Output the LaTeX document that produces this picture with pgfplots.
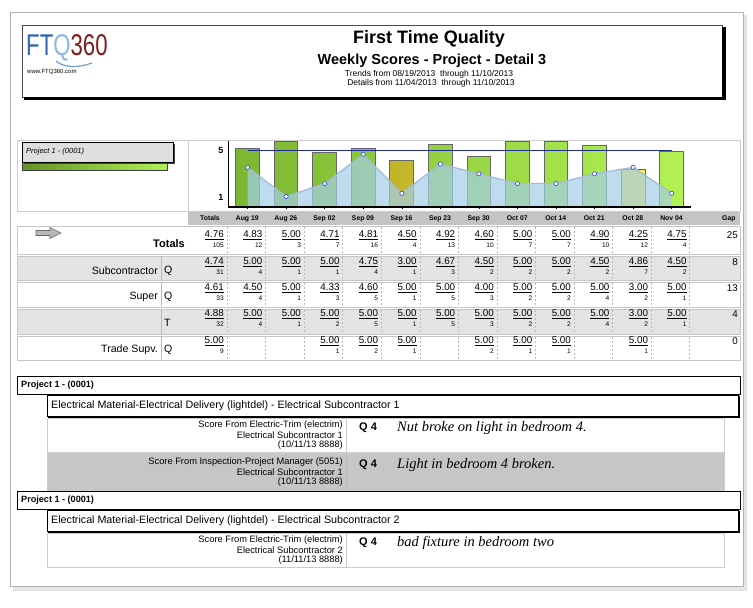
\documentclass[border=0pt]{standalone}
\usepackage{pgfplots}
\pgfplotsset{compat=1.18}
\usepackage{fontspec}
\setmainfont{Liberation Sans}
\newfontfamily\serifit{Liberation Serif}
\definecolor{gdark}{HTML}{7CB632}
\definecolor{glight}{HTML}{B2F254}
\definecolor{ydark}{HTML}{C2B42A}
\definecolor{ylight}{HTML}{F4EA48}
\definecolor{areablue}{HTML}{A4CEE8}
\definecolor{linecol}{HTML}{A4BCD6}
\definecolor{markblue}{HTML}{3A56E0}
\definecolor{navyline}{HTML}{1E2A9C}
\definecolor{rowgray}{HTML}{E4E4E4}
\definecolor{headgray}{HTML}{C4C4C4}
\definecolor{detgray}{HTML}{C6C6C6}
\definecolor{ftqblue}{HTML}{2F64B0}
\definecolor{ftqlight}{HTML}{8FB8E0}
\definecolor{ftqred}{HTML}{7E1E1E}
\newcommand\fs[1]{\fontsize{#1}{#1}\selectfont}
\newcommand\cell[4]{% col, y, score, count
  \pgfmathsetmacro\xr{224+38.56*#1}%
  \node[anchor=east,inner sep=0] at (\xr,#2) {\fs{9.8}\underline{#3}};
  \node[anchor=east,inner sep=0] at (\xr,#2+9.8) {\fs{6.6}#4};}
\newcommand\detail[5]{% y, line1, line2, line3, comment
   \node[anchor=east, inner sep=0] at (343,#1) {\fs{9.3}#2};
   \node[anchor=east, inner sep=0] at (343,#1+10) {\fs{9.3}#3};
   \node[anchor=east, inner sep=0] at (343,#1+20) {\fs{9.3}#4};
   \node[anchor=west, inner sep=0] at (359,#1+3) {\fs{11}\bfseries Q 4};
   \node[anchor=west, inner sep=0] at (397,#1+3) {\fs{14.5}\serifit\itshape #5};}
\begin{document}
\begin{tikzpicture}
\useasboundingbox (0,0) rectangle (753pt,-608pt);
\begin{scope}[x=1pt,y=-1pt]
 % page
 \fill[gray!20] (13,15) rectangle (747,591);
 \fill[white] (10,12) rectangle (743,586);
 \draw[gray!60, line width=0.8] (10,12) rectangle (743,586);
 % header box
 \draw[black!70, line width=0.8] (22,25) rectangle (722,97);
 \fill[black] (722,27) rectangle (726,100);
 \fill[black] (24,97) rectangle (726,100);
 \node[anchor=west, inner sep=0] at (26,48) {\scalebox{0.74}[1]{\fs{30}\color{ftqblue}FT\color{ftqlight}Q\color{ftqred}360}};
 \draw[ftqlight!70!ftqblue, line width=1.2] (56,61) .. controls (64,68) and (78,68) .. (92,63);
 \node[anchor=west, inner sep=0] at (27,72) {\fs{6}www.FTQ360.com};
 \node at (429,39) {\fs{18}\bfseries First Time Quality};
 \node at (432,61) {\fs{14.5}\bfseries Weekly Scores - Project - Detail 3};
 \node[inner sep=0] at (429,74) {\fs{8.5}Trends from 08/19/2013\ \ through 11/10/2013};
 \node[inner sep=0] at (431,83) {\fs{8.5}Details from 11/04/2013\ \ through 11/10/2013};
 % chart section frame
 \draw[gray!40, line width=0.8] (17,140) rectangle (740,211);
 \draw[gray!40, line width=0.8] (188,140) -- (188,211);
 % legend
 \shade[left color=gdark!80!black, right color=glight] (22,162) rectangle (167,170);
 \draw[gray!50!black, line width=0.4] (22,162) rectangle (167,170);
 \fill[black!75] (24,144) rectangle (175,164);
 \fill[gray!25] (22,142) rectangle (173,162);
 \draw[black, line width=0.8] (22,142) rectangle (173,162);
 \node[anchor=west, inner sep=0] at (26,151.5) {\fs{7.5}\itshape Project 1 - (0001)};
 % table header
 \fill[headgray] (188,212) rectangle (740,225);
 \node at (210,218.5) {\fs{6.8}\bfseries Totals};
 \foreach \d [count=\i from 1] in {Aug 19,Aug 26,Sep 02,Sep 09,Sep 16,Sep 23,Sep 30,Oct 07,Oct 14,Oct 21,Oct 28,Nov 04}
   \node at ({227+38.56*\i-18.3},218.5) {\fs{6.8}\bfseries \d};
 \node[anchor=east] at (739,218.5) {\fs{6.8}\bfseries Gap};
 % rows
 \draw[gray!45, line width=0.6] (17,226) rectangle (740,254);
 \filldraw[fill=rowgray, draw=gray!45, line width=0.6] (17,256) rectangle (740,280);
 \draw[gray!45, line width=0.6] (17,282) rectangle (740,307);
 \filldraw[fill=rowgray, draw=gray!45, line width=0.6] (17,309) rectangle (740,334);
 \draw[gray!45, line width=0.6] (17,336) rectangle (740,360);
 \foreach \t/\b in {256/280,282/307,309/334,336/360}{
   \draw[gray!55, line width=0.6] (161,\t) -- (161,\b);
   \foreach \k in {0,...,12} \draw[gray!55, line width=0.5, dash pattern=on 2pt off 2pt] ({227+38.56*\k},\t+1) -- ({227+38.56*\k},\b-1);
 }
 \foreach \k in {0,...,12} \draw[gray!55, line width=0.5, dash pattern=on 2pt off 2pt] ({227+38.56*\k},227) -- ({227+38.56*\k},253);
 % arrow
 \filldraw[fill=gray!55, draw=black!60, line width=0.6] (36,230.5) -- (50,230.5) -- (50,227.5) -- (61,233) -- (50,238.5) -- (50,235.5) -- (36,235.5) -- cycle;
 % row labels
 \node[anchor=east, inner sep=0] at (185,244) {\fs{11}\bfseries Totals};
 \node[anchor=east, inner sep=0] at (158,271) {\fs{10.6}Subcontractor};
 \node[anchor=west, inner sep=0] at (164,271) {\fs{10.6}Q};
 \node[anchor=east, inner sep=0] at (158,297) {\fs{10.6}Super};
 \node[anchor=west, inner sep=0] at (164,297) {\fs{10.6}Q};
 \node[anchor=west, inner sep=0] at (164,323) {\fs{10.6}T};
 \node[anchor=east, inner sep=0] at (158,350) {\fs{10.6}Trade Supv.};
 \node[anchor=west, inner sep=0] at (164,350) {\fs{10.6}Q};
 % values
 \foreach \s/\c [count=\k from 0] in {4.76/105,4.83/12,5.00/3,4.71/7,4.81/16,4.50/4,4.92/13,4.60/10,5.00/7,5.00/7,4.90/10,4.25/12,4.75/4}
   {\cell{\k}{235}{\s}{\c}}
 \foreach \s/\c [count=\k from 0] in {4.74/31,5.00/4,5.00/1,5.00/1,4.75/4,3.00/1,4.67/3,4.50/2,5.00/2,5.00/2,4.50/2,4.86/7,4.50/2}
   {\cell{\k}{262}{\s}{\c}}
 \foreach \s/\c [count=\k from 0] in {4.61/33,4.50/4,5.00/1,4.33/3,4.60/5,5.00/1,5.00/5,4.00/3,5.00/2,5.00/2,5.00/4,3.00/2,5.00/1}
   {\cell{\k}{288}{\s}{\c}}
 \foreach \s/\c [count=\k from 0] in {4.88/32,5.00/4,5.00/1,5.00/2,5.00/5,5.00/1,5.00/5,5.00/3,5.00/2,5.00/2,5.00/4,3.00/2,5.00/1}
   {\cell{\k}{314}{\s}{\c}}
 \foreach \k/\s/\c in {0/5.00/9,3/5.00/1,4/5.00/2,5/5.00/1,7/5.00/2,8/5.00/1,9/5.00/1,11/5.00/1}
   {\cell{\k}{341}{\s}{\c}}
 \foreach \g/\y in {25/235,8/262,13/288,4/314,0/341}
   \node[anchor=east, inner sep=0] at (738,\y) {\fs{9.8}\g};
 % detail section
 \draw[black, line width=0.8] (17,376) rectangle (740,394);
 \node[anchor=west, inner sep=0] at (21,385) {\fs{9.1}\bfseries Project 1 - (0001)};
 \draw[black, line width=0.8] (47,395) rectangle (738,416);
 \draw[black, line width=1.6] (739,396) -- (739,417) -- (48,417);
 \node[anchor=west, inner sep=0] at (51,405.5) {\fs{10.7}Electrical Material-Electrical Delivery (lightdel) - Electrical Subcontractor 1};
 \draw[gray!40, line width=0.6] (47,418) rectangle (724,452);
 \draw[gray!40, line width=0.6] (346,418) -- (346,452);
 \filldraw[fill=detgray, draw=gray!40, line width=0.6] (47,453) rectangle (724,490);
 \draw[gray!55, line width=0.6] (346,453) -- (346,490);
 \draw[black, line width=0.8] (17,491) rectangle (740,509);
 \node[anchor=west, inner sep=0] at (21,500) {\fs{9.1}\bfseries Project 1 - (0001)};
 \draw[black, line width=0.8] (47,510) rectangle (738,531);
 \draw[black, line width=1.6] (739,511) -- (739,532) -- (48,532);
 \node[anchor=west, inner sep=0] at (51,520.5) {\fs{10.7}Electrical Material-Electrical Delivery (lightdel) - Electrical Subcontractor 2};
 \draw[gray!40, line width=0.6] (47,533) rectangle (724,567);
 \draw[gray!40, line width=0.6] (346,533) -- (346,567);
 \detail{425}{Score From Electric-Trim (electrim)}{Electrical Subcontractor 1}{(10/11/13 8888)}{Nut broke on light in bedroom 4.}
 \detail{462}{Score From Inspection-Project Manager (5051)}{Electrical Subcontractor 1}{(10/11/13 8888)}{Light in bedroom 4 broken.}
 \detail{540}{Score From Electric-Trim (electrim)}{Electrical Subcontractor 2}{(11/11/13 8888)}{bad fixture in bedroom two}
\end{scope}
% ---- chart: bars (scores)
\begin{axis}[at={(228.3pt,-206.7pt)}, anchor=south west, scale only axis,
  width=462.7pt, height=65.7pt, xmin=-0.5, xmax=11.5, ymin=3.267, ymax=5.019, hide axis]
\addplot[ybar, bar width=23.7pt, bar shift=0pt, draw=black!60, line width=1pt, left color=gdark, right color=glight]
  coordinates {(0,4.83)(1,5.00)(2,4.71)(3,4.81)(5,4.92)(6,4.60)(7,5.00)(8,5.00)(9,4.90)(11,4.75)};
\addplot[ybar, bar width=23.7pt, bar shift=0pt, draw=black!60, line width=1pt, left color=ydark, right color=ylight]
  coordinates {(4,4.50)(10,4.25)};
\end{axis}
% ---- chart: counts (area + line)
\begin{axis}[at={(228.3pt,-206.7pt)}, anchor=south west, scale only axis,
  width=462.7pt, height=65.7pt, xmin=-0.5, xmax=11.5, ymin=-0.12, ymax=20.09, hide axis]
\addplot[fill=areablue, fill opacity=0.7, draw=none]
  coordinates {(0,12)(1,3)(2,7)(3,16)(4,4)(5,13)(6,10)(7,7)(8,7)(9,10)(10,12)(11,4)} \closedcycle;
\addplot[linecol, line width=1.3pt, mark=*, mark size=2.1pt, mark options={fill=white, draw=markblue, line width=0.7pt}]
  coordinates {(0,12)(1,3)(2,7)(3,16)(4,4)(5,13)(6,10)(7,7)(8,7)(9,10)(10,12)(11,4)};
\end{axis}
% ---- chart: visible axes and target line
\begin{axis}[at={(228.3pt,-206.7pt)}, anchor=south west, scale only axis,
  width=462.7pt, height=65.7pt, xmin=-0.5, xmax=11.5, ymin=0.205, ymax=5.76,
  axis x line*=bottom, axis y line*=left, axis line style={black, line width=1.6pt, -},
  xtick={0,...,11}, xticklabels={}, ytick={1,5}, ytick style={draw=none},
  xtick style={black, line width=0.6pt}, tick align=outside, major tick length=2.5pt,
  /pgf/number format/assume math mode=true,
  yticklabel style={font=\fs{9}\bfseries, xshift=1pt}]
\addplot[navyline, line width=0.9pt] coordinates {(0,4.92)(11,4.92)};
\end{axis}
\end{tikzpicture}
\end{document}
